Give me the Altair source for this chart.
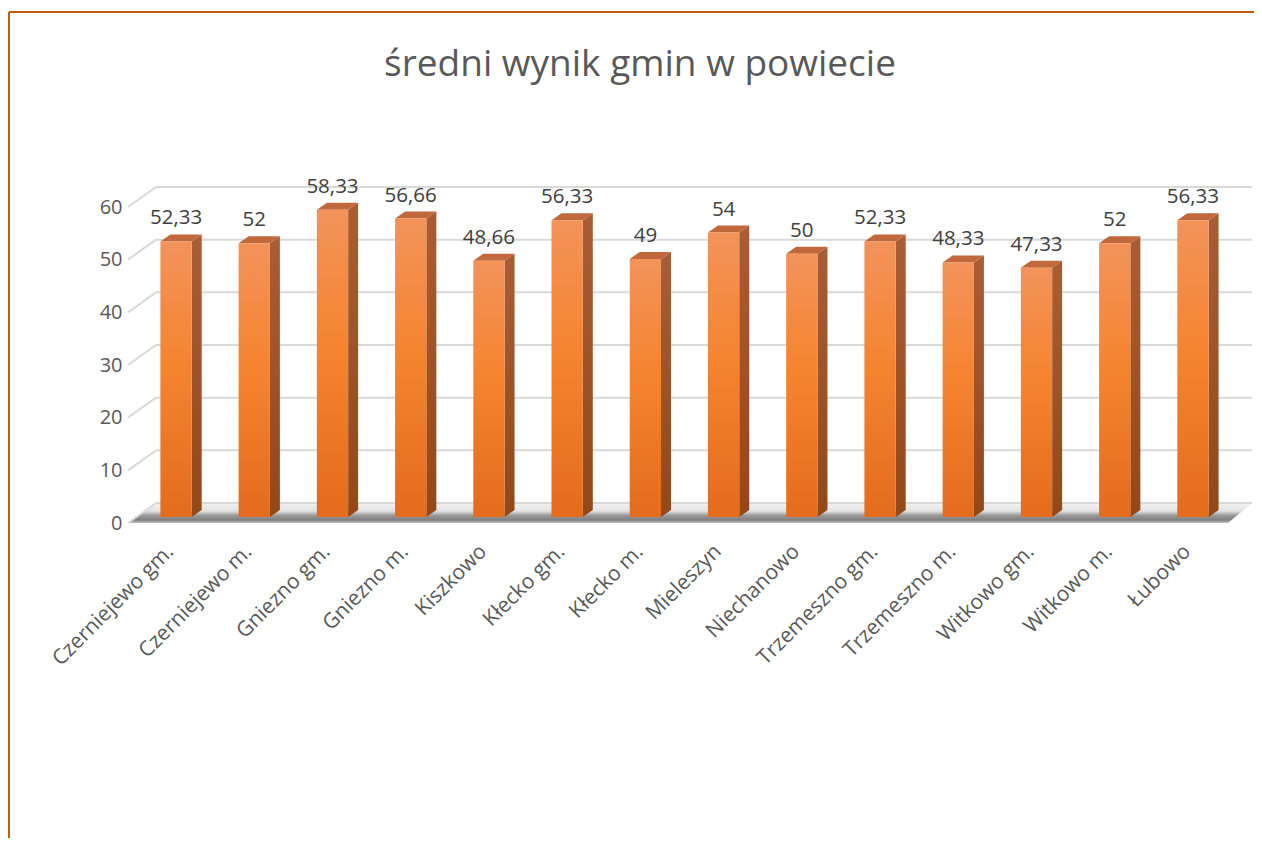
import json
import altair as alt
import pandas as pd

# ---- data ----
names = ["Czerniejewo gm.", "Czerniejewo m.", "Gniezno gm.", "Gniezno m.", "Kiszkowo",
         "Kłecko gm.", "Kłecko m.", "Mieleszyn", "Niechanowo", "Trzemeszno gm.",
         "Trzemeszno m.", "Witkowo gm.", "Witkowo m.", "Łubowo"]
values = [52.33, 52, 58.33, 56.66, 48.66, 56.33, 49, 54, 50, 52.33, 48.33, 47.33, 52, 56.33]
y_ticks = [0, 10, 20, 30, 40, 50, 60]
title_text = "średni wynik gmin w powiecie"

# ---- geometry / style constants ----
W, H = 1124, 316
X0, X1 = -0.614, 13.755
PXX = W / (X1 - X0)          # px per index unit
PXY = H / 60.0               # px per value unit
HALF = 0.2                   # half bar width (index units)
DX = 10 / PXX                # 3D depth in x
DY = 7 / PXY                 # 3D depth in y
FONT = "Open Sans"

def fmt(v):
    s = ("%.2f" % v).rstrip("0").rstrip(".")
    return s.replace(".", ",")

bars = pd.DataFrame({
    "i": list(range(len(names))),
    "v": values,
})
bars["x0"] = bars["i"] - HALF
bars["x1"] = bars["i"] + HALF
bars["zero"] = 0.0
bars["lab"] = [fmt(v) for v in values]

side_rows, top_rows = [], []
for i, v in zip(bars["i"], values):
    side_rows.append({"i": i, "x": i + HALF, "top": v, "bot": 0.0})
    side_rows.append({"i": i, "x": i + HALF + DX, "top": v + DY, "bot": DY})
    top_rows.append({"i": i, "y": v, "xl": i - HALF, "xr": i + HALF})
    top_rows.append({"i": i, "y": v + DY, "xl": i - HALF + DX, "xr": i + HALF + DX})
side = pd.DataFrame(side_rows)
topf = pd.DataFrame(top_rows)

front_y = -6 / PXY
back_y = 14 / PXY
floor = pd.DataFrame([
    {"y": front_y, "xl": X0, "xr": X0 + 1100 / PXX},
    {"y": back_y, "xl": X0 + 28 / PXX, "xr": X1},
])

grid = pd.DataFrame({"t": y_ticks})

xs = alt.Scale(domain=[X0, X1], nice=False, zero=False)
ys = alt.Scale(domain=[0, 60], nice=False, zero=False)

label_expr = json.dumps(names, ensure_ascii=False) + "[datum.value]"
x_axis = alt.Axis(values=list(range(len(names))), labelExpr=label_expr,
                  labelAngle=-45, labelAlign="right", labelBaseline="middle",
                  labelPadding=31, labelOffset=-6, labelFontSize=21,
                  labelFont=FONT, labelColor="#595959", labelOverlap=False,
                  domain=False, ticks=False, grid=False, title=None)
y_axis = alt.Axis(values=y_ticks, labelFontSize=20, labelFont=FONT,
                  labelColor="#595959", labelPadding=6, labelOffset=6,
                  domain=False, ticks=False, grid=False, title=None)

def X(f):
    return alt.X(f, scale=xs, axis=x_axis, title=None)

def Y(f):
    return alt.Y(f, scale=ys, axis=y_axis, title=None)

def grad(stops):
    return alt.Gradient(gradient="linear", x1=0, y1=0, x2=0, y2=1,
                        stops=[alt.GradientStop(offset=o, color=c) for o, c in stops])

floor_layer = alt.Chart(floor).mark_area(
    orient="horizontal",
    fill=grad([(0, "#f2f2f2"), (0.4, "#e3e3e3"), (0.62, "#9a9a9a"), (0.85, "#7f7f7f"), (1, "#c4c4c4")]),
).encode(
    y=Y("y:Q"),
    x=X("xl:Q"),
    x2="xr:Q",
)

back_grid = alt.Chart(grid).mark_rule(color="#d9d9d9", strokeWidth=2, yOffset=-14).encode(
    y=Y("t:Q"),
    x=alt.value(28),
    x2=alt.value(W),
)

diag_grid = alt.Chart(grid).mark_rule(color="#d9d9d9", strokeWidth=2, yOffset=6, y2Offset=-14).encode(
    y=Y("t:Q"),
    y2="t:Q",
    x=alt.value(0),
    x2=alt.value(28),
)

side_layer = alt.Chart(side).mark_area(
    fill=grad([(0, "#a85d35"), (1, "#93481a")]),
).encode(
    x=X("x:Q"),
    y=Y("top:Q"),
    y2="bot:Q",
    detail="i:N",
)

top_layer = alt.Chart(topf).mark_area(
    orient="horizontal", fill="#c1693d",
).encode(
    y=Y("y:Q"),
    x=X("xl:Q"),
    x2="xr:Q",
    detail="i:N",
)

front_layer = alt.Chart(bars).mark_rect(
    fill=grad([(0, "#f3935a"), (0.45, "#f5842f"), (1, "#e36c1d")]),
).encode(
    x=X("x0:Q"),
    x2="x1:Q",
    y=Y("zero:Q"),
    y2="v:Q",
)

text_layer = alt.Chart(bars).mark_text(
    dy=-17, baseline="alphabetic", fontSize=20.5, font=FONT, color="#404040",
).encode(
    x=X("i:Q"),
    y=Y("v:Q"),
    text="lab:N",
)

border_top = alt.Chart(grid).mark_rule(color="#c55a11", strokeWidth=2).encode(
    x=alt.value(-119), x2=alt.value(W + 10), y=alt.value(-189),
)
border_left = alt.Chart(grid).mark_rule(color="#c55a11", strokeWidth=2).encode(
    x=alt.value(-119), y=alt.value(-189), y2=alt.value(H + 330),
)

chart = alt.layer(
    floor_layer, back_grid, diag_grid, side_layer, top_layer, front_layer, text_layer,
    border_top, border_left,
).properties(
    width=W, height=H,
    background="white",
    autosize=alt.AutoSizeParams(type="none"),
    padding={"left": 120, "top": 193, "right": 2, "bottom": 321},
    title=alt.Title(title_text, fontSize=37, font=FONT, color="#595959",
                    fontWeight="normal", offset=0, dy=73, dx=-50),
).configure_view(stroke=None)

chart.save("out.html", embed_options={"renderer": "svg", "actions": False})
